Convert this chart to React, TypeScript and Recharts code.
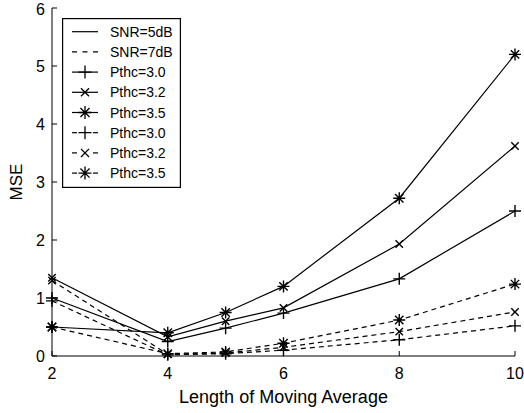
import { LineChart, Line, XAxis, YAxis } from 'recharts'

// moving-average lengths on the x axis
const lengths = [2, 4, 5, 6, 8, 10]
const xTicks = [2, 4, 6, 8, 10]
const yTicks = [0, 1, 2, 3, 4, 5, 6]

// SNR = 5dB (solid)
const snr5Pthc30 = [1.0, 0.25, 0.48, 0.74, 1.33, 2.5]
const snr5Pthc32 = [1.35, 0.33, 0.6, 0.83, 1.93, 3.62]
const snr5Pthc35 = [0.5, 0.4, 0.75, 1.2, 2.72, 5.2]

// SNR = 7dB (dashed)
const snr7Pthc30 = [0.95, 0.02, 0.04, 0.1, 0.28, 0.52]
const snr7Pthc32 = [1.3, 0.03, 0.05, 0.15, 0.42, 0.76]
const snr7Pthc35 = [0.5, 0.04, 0.07, 0.22, 0.62, 1.24]

type MarkerKind = 'plus' | 'cross' | 'star' | null

const series: { key: string; values: number[]; dashed: boolean; marker: MarkerKind }[] = [
  { key: 's5p30', values: snr5Pthc30, dashed: false, marker: 'plus' },
  { key: 's5p32', values: snr5Pthc32, dashed: false, marker: 'cross' },
  { key: 's5p35', values: snr5Pthc35, dashed: false, marker: 'star' },
  { key: 's7p30', values: snr7Pthc30, dashed: true, marker: 'plus' },
  { key: 's7p32', values: snr7Pthc32, dashed: true, marker: 'cross' },
  { key: 's7p35', values: snr7Pthc35, dashed: true, marker: 'star' },
]

const legendRows: { label: string; dashed: boolean; marker: MarkerKind }[] = [
  { label: 'SNR=5dB', dashed: false, marker: null },
  { label: 'SNR=7dB', dashed: true, marker: null },
  { label: 'Pthc=3.0', dashed: false, marker: 'plus' },
  { label: 'Pthc=3.2', dashed: false, marker: 'cross' },
  { label: 'Pthc=3.5', dashed: false, marker: 'star' },
  { label: 'Pthc=3.0', dashed: true, marker: 'plus' },
  { label: 'Pthc=3.2', dashed: true, marker: 'cross' },
  { label: 'Pthc=3.5', dashed: true, marker: 'star' },
]

const chartData = lengths.map((len, i) => {
  const row: Record<string, number> = { len }
  series.forEach((s) => (row[s.key] = s.values[i]))
  return row
})

const FONT = 'Arial, "Liberation Sans", sans-serif'
const DASH = '5 4'

function markerPath(kind: MarkerKind, cx: number, cy: number, r = 6) {
  const plus = `M${cx - r},${cy}H${cx + r}M${cx},${cy - r}V${cy + r}`
  const cr = kind === 'cross' ? r * 0.62 : r * 0.7
  const cross = `M${cx - cr},${cy - cr}L${cx + cr},${cy + cr}M${cx - cr},${cy + cr}L${cx + cr},${cy - cr}`
  if (kind === 'plus') return plus
  if (kind === 'cross') return cross
  if (kind === 'star') return plus + cross
  return ''
}

function Marker({ cx, cy, kind }: { cx?: number; cy?: number; kind: MarkerKind }) {
  if (cx == null || cy == null || !kind) return null
  return <path d={markerPath(kind, cx, cy)} stroke="#000" strokeWidth={1.4} fill="none" />
}

function LegendBox() {
  const rowH = 20.2
  return (
    <svg width={119} height={170} style={{ position: 'absolute', left: 62, top: 18 }}>
      <rect x={0.6} y={0.6} width={117.8} height={168.8} fill="#fff" stroke="#000" strokeWidth={1.2} />
      {legendRows.map((r, i) => {
        const y = 13.7 + i * rowH
        const sample =
          r.marker && r.dashed ? (
            <>
              <line x1={10} x2={15} y1={y} y2={y} stroke="#000" strokeWidth={1.2} />
              <line x1={31} x2={36} y1={y} y2={y} stroke="#000" strokeWidth={1.2} />
            </>
          ) : (
            <line
              x1={10}
              x2={36}
              y1={y}
              y2={y}
              stroke="#000"
              strokeWidth={1.2}
              strokeDasharray={r.dashed ? '5 5.5' : undefined}
            />
          )
        return (
          <g key={i}>
            {sample}
            {r.marker && (
              <path d={markerPath(r.marker, 23, y, 6.5)} stroke="#000" strokeWidth={1.3} fill="none" />
            )}
            <text x={48} y={y + 5} fontSize={14} fontFamily={FONT} fill="#000">
              {r.label}
            </text>
          </g>
        )
      })}
    </svg>
  )
}

export default function App() {
  return (
    <div style={{ position: 'absolute', left: 0, top: 0, width: 524, height: 413, background: '#fff' }}>
      <LineChart
        width={524}
        height={413}
        data={chartData}
        margin={{ top: 8, right: 9, left: 0, bottom: 0 }}
        style={{ fontFamily: FONT }}
      >
        <XAxis
          xAxisId="main"
          dataKey="len"
          type="number"
          domain={[2, 10]}
          ticks={xTicks}
          height={57}
          stroke="#000"
          tickSize={-5}
          tickMargin={17}
          tick={{ fill: '#000', fontSize: 16 }}
          label={{ value: 'Length of Moving Average', position: 'insideBottom', offset: 10, fill: '#000', fontSize: 18 }}
        />
        <XAxis
          xAxisId="top"
          dataKey="len"
          type="number"
          domain={[2, 10]}
          ticks={xTicks}
          orientation="top"
          height={0}
          stroke="#000"
          tickSize={-5}
          tick={false}
        />
        <YAxis
          yAxisId="main"
          type="number"
          domain={[0, 6]}
          ticks={yTicks}
          width={52}
          stroke="#000"
          tickSize={-5}
          tickMargin={12}
          tick={{ fill: '#000', fontSize: 16 }}
          label={{ value: 'MSE', angle: -90, position: 'center', dx: -10, fill: '#000', fontSize: 17 }}
        />
        <YAxis
          yAxisId="right"
          type="number"
          domain={[0, 6]}
          ticks={yTicks}
          orientation="right"
          width={0}
          stroke="#000"
          tickSize={-5}
          tick={false}
        />
        {series.map((s) => (
          <Line
            key={s.key}
            xAxisId="main"
            yAxisId="main"
            dataKey={s.key}
            type="linear"
            stroke="#000"
            strokeWidth={1.2}
            strokeDasharray={s.dashed ? DASH : undefined}
            dot={(p: any) => <Marker key={`${s.key}-${p.index}`} cx={p.cx} cy={p.cy} kind={s.marker} />}
            activeDot={false}
            isAnimationActive={false}
          />
        ))}
      </LineChart>
      <LegendBox />
    </div>
  )
}
